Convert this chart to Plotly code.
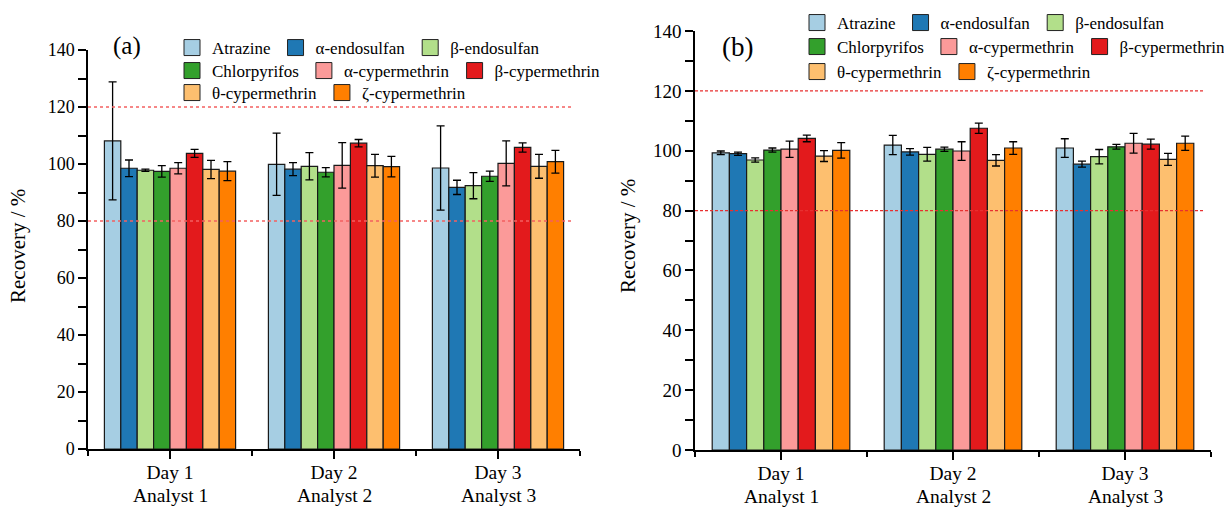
import plotly.graph_objects as go

FONT = "Liberation Serif"

days = ["Day 1", "Day 2", "Day 3"]
analysts = ["Analyst 1", "Analyst 2", "Analyst 3"]
day_pos = [0, 1, 2]
compounds = ["Atrazine", "α-endosulfan", "β-endosulfan", "Chlorpyrifos",
             "α-cypermethrin", "β-cypermethrin", "θ-cypermethrin", "ζ-cypermethrin"]
colors = ["#a6cee3", "#1f78b4", "#b2df8a", "#33a02c",
          "#fb9a99", "#e31a1c", "#fdbf6f", "#ff7f00"]

# panel (a): recovery (%) per compound for Day 1, Day 2, Day 3
a_values = [
    [108.1, 99.9, 98.6],
    [98.5, 98.2, 91.8],
    [97.8, 99.2, 92.4],
    [97.4, 97.1, 95.7],
    [98.5, 99.5, 100.2],
    [103.7, 107.3, 105.8],
    [98.1, 99.4, 99.2],
    [97.5, 99.1, 100.8],
]
a_errors = [
    [20.7, 10.9, 14.8],
    [2.9, 2.3, 2.5],
    [0.4, 4.8, 4.6],
    [2.0, 1.6, 1.8],
    [2.0, 8.0, 7.9],
    [1.4, 1.3, 1.6],
    [3.2, 4.0, 4.2],
    [3.3, 3.6, 4.0],
]
# panel (b)
b_values = [
    [99.3, 101.9, 100.9],
    [99.0, 99.6, 95.5],
    [96.9, 98.8, 98.0],
    [100.2, 100.5, 101.3],
    [100.5, 99.9, 102.5],
    [104.1, 107.5, 102.2],
    [98.2, 96.8, 97.1],
    [100.1, 100.9, 102.5],
]
b_errors = [
    [0.6, 3.2, 3.1],
    [0.55, 1.1, 1.0],
    [0.7, 2.3, 2.4],
    [0.7, 0.7, 0.8],
    [2.7, 3.1, 3.3],
    [1.1, 1.7, 1.7],
    [1.8, 1.9, 2.0],
    [2.6, 2.1, 2.4],
]
limits = [80, 120]
y_ticks = [0, 20, 40, 60, 80, 100, 120, 140]

legend_rows = [[0, 1, 2], [3, 4, 5], [6, 7]]

fig = go.Figure()

panels = [
    dict(vals=a_values, errs=a_errors, xa="x", ya="y", leg_offset=0),
    dict(vals=b_values, errs=b_errors, xa="x2", ya="y2", leg_offset=3),
]

for p in panels:
    for i, name in enumerate(compounds):
        fig.add_trace(go.Bar(
            x=day_pos, y=p["vals"][i], name=name, showlegend=False,
            xaxis=p["xa"], yaxis=p["ya"], offsetgroup=str(i),
            marker=dict(color=colors[i], line=dict(color="#1a1a1a", width=1.2)),
            error_y=dict(type="data", array=p["errs"][i], color="black",
                         thickness=1.3, width=4),
        ))
    # legend entries
    for r, row in enumerate(legend_rows):
        k = r + 1 + p["leg_offset"]
        lid = "legend" if k == 1 else f"legend{k}"
        for i in row:
            fig.add_trace(go.Scatter(
                x=[None], y=[None], mode="markers", name=compounds[i],
                xaxis=p["xa"], yaxis=p["ya"], legend=lid, showlegend=True,
                marker=dict(symbol="square", size=16, color=colors[i],
                            line=dict(color="#222", width=1)),
                hoverinfo="skip",
            ))

W, H = 1224, 509


def px_x(v):
    return v / W


def px_y(v):
    return 1 - v / H


xaxis_common = dict(
    range=[-0.5, 2.5], tickmode="array", tickvals=day_pos, ticktext=days,
    ticks="outside", ticklen=8, tickwidth=1.5, tickcolor="black",
    showline=True, linecolor="black", linewidth=2.3, showgrid=False,
    zeroline=False, tickfont=dict(family=FONT, size=19.5, color="black"),
    ticklabelstandoff=-4,
    minor=dict(tickmode="array", tickvals=[-0.5, 0.5, 1.5, 2.5], ticks="outside",
               ticklen=5, tickwidth=1.5, tickcolor="black", showgrid=False),
)
yaxis_common = dict(
    range=[0, 140], tickmode="array", tickvals=y_ticks,
    ticks="outside", ticklen=8, tickwidth=1.5, tickcolor="black",
    showline=True, linecolor="black", linewidth=1.5, showgrid=False,
    zeroline=False,
    minor=dict(dtick=10, tick0=0, ticks="outside", ticklen=8, tickwidth=1.5,
               tickcolor="black", showgrid=False),
)

layout = dict(
    width=W, height=H,
    margin=dict(l=0, r=0, t=0, b=0, autoexpand=False),
    paper_bgcolor="white", plot_bgcolor="white",
    barmode="group", bargap=0.2, bargroupgap=0,
    font=dict(family=FONT, color="black"),
    xaxis=dict(domain=[px_x(88), px_x(580)], anchor="y", **xaxis_common),
    yaxis=dict(domain=[1 - 449 / H, 1 - 50 / H], anchor="x",
               tickfont=dict(family=FONT, size=18, color="black"), **yaxis_common),
    xaxis2=dict(domain=[px_x(695), px_x(1211)], anchor="y2", **xaxis_common),
    yaxis2=dict(domain=[1 - 450 / H, 1 - 31 / H], anchor="x2",
                tickfont=dict(family=FONT, size=19, color="black"), **yaxis_common),
    showlegend=True,
)

leg_x = [172, 172, 172, 797, 797, 797]
leg_y = [48, 71, 93, 23, 47, 72]
for k in range(6):
    lid = "legend" if k == 0 else f"legend{k + 1}"
    layout[lid] = dict(
        orientation="h", x=px_x(leg_x[k]), y=px_y(leg_y[k]),
        xanchor="left", yanchor="middle", xref="paper", yref="paper",
        font=dict(family=FONT, size=17, color="black"),
        bgcolor="rgba(0,0,0,0)", itemsizing="trace", borderwidth=0,
        traceorder="normal",
    )

fig.update_layout(**layout)

# acceptance limits
for xa, ya, w, dash, col, ext in [("x", "y", 1.6, "3px,3px", "#f46060", 0.986),
                                   ("x2", "y2", 1.2, "3px,2px", "#e83030", 0.985)]:
    for lim in limits:
        fig.add_shape(type="line", xref=f"{xa} domain", yref=ya, x0=0, x1=ext,
                      y0=lim, y1=lim, line=dict(color=col, width=w, dash=dash))

# second line of the category labels
for xa, ypx in [("x", 495), ("x2", 496)]:
    for xp, label in zip(day_pos, analysts):
        fig.add_annotation(text=label, x=xp, xref=xa, y=px_y(ypx), yref="paper",
                           showarrow=False, xanchor="center", yanchor="middle",
                           borderpad=0,
                           font=dict(family=FONT, size=19.5, color="black"))

# titles and panel labels
ann_common = dict(xref="paper", yref="paper", showarrow=False,
                  xanchor="center", yanchor="middle")
fig.add_annotation(text="Recovery / %", x=px_x(18), y=px_y(246), textangle=-90,
                   font=dict(family=FONT, size=21, color="black"), **ann_common)
fig.add_annotation(text="Recovery / %", x=px_x(628), y=px_y(236), textangle=-90,
                   font=dict(family=FONT, size=21, color="black"), **ann_common)
fig.add_annotation(text="(a)", x=px_x(127), y=px_y(46),
                   font=dict(family=FONT, size=25, color="black"), **ann_common)
fig.add_annotation(text="(b)", x=px_x(737), y=px_y(47),
                   font=dict(family=FONT, size=27, color="black"), **ann_common)

fig.write_html("out.html")
